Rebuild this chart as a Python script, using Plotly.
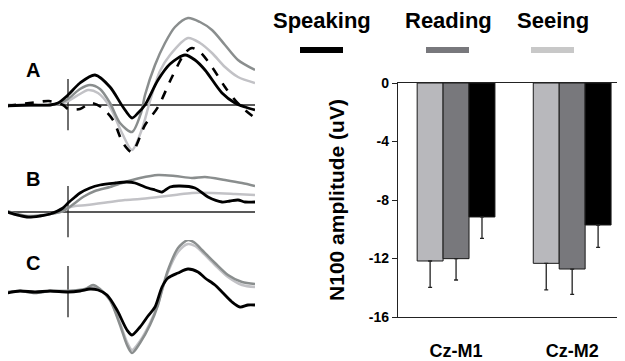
import plotly.graph_objects as go

# The page body keeps its default 8px margin, so the figure is sized to fill
# the 625x361 window from that offset.
WIN_W, WIN_H = 625, 361
OFF = 8
W, H = WIN_W - OFF, WIN_H - OFF
FONT = "Arial, Liberation Sans, sans-serif"

# ---------------- ERP waveforms (time in ms, amplitude in uV) ----------------
# Panel A
a_spk_t = [-122, -76, -36, -20, 0, 24, 54, 84, 110, 128, 140, 154, 180, 204, 234, 254, 274, 308, 334, 354, 374]
a_spk_v = [-0.25, 0, 0, 0.5, 2.5, 5.5, 7.5, 4.5, -0.5, -3.25, -2, 0, 6.25, 10.25, 12.5, 11.25, 8.75, 3, 0.5, -0.5, -1.25]
a_dash_t = [-122, -60, -38, -10, 0, 24, 46, 66, 90, 110, 128, 154, 180, 208, 234, 248, 264, 288, 314, 334, 354, 374]
a_dash_v = [-0.25, 0.75, 1, 0, -1, -1, 0.5, -0.5, -3.75, -9.5, -11.75, -5, -0.5, 7, 13, 14.25, 13.25, 9.5, 4.5, 1.25, -1.25, -3.25]
a_rd_t = [-122, -36, -16, 0, 24, 44, 64, 84, 104, 128, 146, 154, 174, 194, 214, 240, 264, 288, 314, 340, 374]
a_rd_v = [0, 0, 0.5, 1.5, 4, 5, 4, 0.5, -4.5, -6.75, -2, 2.5, 10, 15.5, 19.5, 21.75, 20.75, 18.75, 15, 11.25, 8.75]
a_se_t = [-122, -36, -16, 0, 24, 40, 60, 84, 108, 128, 148, 164, 184, 204, 240, 264, 288, 314, 340, 374]
a_se_v = [0, 0, 0.25, 1, 2.75, 3.75, 3, -0.5, -7, -11.25, -6, 1, 8.5, 12.5, 16.75, 15.5, 13, 9.5, 7, 5.5]

# Panel B
b_spk_t = [-122, -82, -56, -36, -10, 0, 14, 24, 44, 64, 94, 118, 134, 154, 174, 188, 204, 224, 254, 280, 308, 324, 340, 354, 374]
b_spk_v = [0, -1.25, -1, -0.5, 1, 2.25, 3.75, 4.75, 6, 6.75, 7.25, 7.5, 7.25, 6.25, 5.5, 5, 6.25, 6.5, 6, 3.75, 2.5, 2.75, 3, 2.5, 2.5]
b_rd_t = [-122, -82, -36, -10, 0, 14, 30, 54, 84, 114, 144, 180, 214, 248, 274, 314, 348, 374]
b_rd_v = [0.25, -1, -0.5, 0.25, 1, 2.25, 3.75, 5.25, 6.25, 7.5, 8.5, 9.25, 9, 8.5, 8.75, 8, 7.25, 6.5]
b_se_t = [-122, -82, -36, -10, 0, 14, 38, 84, 114, 144, 180, 214, 248, 288, 334, 374]
b_se_v = [0, -1.25, -0.5, 0.25, 1, 1.5, 1.75, 2.5, 3, 3.25, 3.75, 4.25, 4.75, 4.75, 4.5, 4.25]

# Panel C
c_spk_t = [-122, -96, -66, -36, 0, 24, 44, 60, 78, 98, 118, 128, 144, 160, 174, 188, 200, 220, 240, 260, 274, 294, 308, 328, 344, 360, 374]
c_spk_v = [-0.25, 0.25, 0, 0.25, 0, 0.25, 0.75, 0.5, -0.75, -4.5, -9.5, -10.75, -8.75, -6, -3.75, 1.25, 3.5, 4.75, 5.75, 5, 3.5, 1.75, 0, -2.5, -3.75, -3.25, -3.25]
c_rd_t = [-122, -96, -66, -36, 0, 34, 50, 64, 84, 104, 118, 128, 144, 164, 180, 188, 200, 220, 240, 254, 268, 294, 320, 348, 374]
c_rd_v = [0, 0.25, -0.25, 0.25, 0.25, 0.75, 1.75, 0.75, -2, -8.25, -13.25, -15.25, -12.75, -8.25, -3.25, 0.5, 5.5, 11, 13, 12.25, 10.5, 7.25, 4.25, 2.5, 2]
c_se_t = [-122, -96, -66, -36, 0, 34, 50, 64, 84, 104, 118, 128, 144, 164, 180, 188, 200, 220, 240, 254, 268, 294, 320, 348, 374]
c_se_v = [0, 0.25, -0.25, 0.25, 0.25, 0.5, 1.25, 0.5, -2, -7.75, -12.5, -14.5, -12.25, -7.75, -3, 0.25, 5, 10, 12, 11.5, 10, 6.75, 3.75, 1.75, 1.25]

panel_labels = ["A", "B", "C"]

# ---------------- Bar chart ----------------
categories = ["Cz-M1", "Cz-M2"]
seeing = [-12.17, -12.33]
reading = [-12.01, -12.72]
speaking = [-9.16, -9.71]
seeing_err = [1.8, 1.82]
reading_err = [1.46, 1.73]
speaking_err = [1.46, 1.53]
y_ticks = [0, -4, -8, -12, -16]
legend_names = ["Speaking", "Reading", "Seeing"]

C_SPK = "#000000"
C_RD_LINE = "#8a8e8e"
C_SE_LINE = "#c2c2c6"
C_RD_BAR = "#78787c"
C_SE_BAR = "#b8b8bc"
C_SE_LEG = "#c8c8c8"

fig = go.Figure()

def px_x(p):
    return min(1.0, max(0.0, (p - OFF) / W))

def px_y(p):
    return min(1.0, max(0.0, 1 - (p - OFF) / H))

# left panels: window pixels 8..255 horizontally -> time -120..374 ms
x_dom = [px_x(8), px_x(255)]
t_range = [-120, 374]
panels = [
    ((10, 160), [-13.75, 23.75]),
    ((165, 245), [-8.25, 11.75]),
    ((240, 361), [-17.25, 13.0]),
]
panel_data = [
    [(a_se_t, a_se_v, C_SE_LINE, 2.5, "solid"), (a_rd_t, a_rd_v, C_RD_LINE, 2.5, "solid"),
     (a_dash_t, a_dash_v, C_SPK, 2.6, "dash"), (a_spk_t, a_spk_v, C_SPK, 2.8, "solid")],
    [(b_se_t, b_se_v, C_SE_LINE, 2.5, "solid"), (b_rd_t, b_rd_v, C_RD_LINE, 2.5, "solid"),
     (b_spk_t, b_spk_v, C_SPK, 2.8, "solid")],
    [(c_se_t, c_se_v, C_SE_LINE, 2.5, "solid"), (c_rd_t, c_rd_v, C_RD_LINE, 2.5, "solid"),
     (c_spk_t, c_spk_v, C_SPK, 2.8, "solid")],
]
label_y = [70, 179, 263]

shapes = []
annotations = []
for i, ((top, bot), yr) in enumerate(panels):
    n = i + 1
    xa = "x" if n == 1 else f"x{n}"
    ya = "y" if n == 1 else f"y{n}"
    for t, v, col, w, dash in panel_data[i]:
        fig.add_trace(go.Scatter(x=t, y=v, mode="lines", xaxis=xa, yaxis=ya,
                                 line=dict(color=col, width=w, dash=dash, shape="spline", smoothing=0.8),
                                 showlegend=False, hoverinfo="skip", cliponaxis=False))
    fig.layout[f"xaxis{n if n > 1 else ''}"] = dict(domain=x_dom, range=t_range, visible=False,
                                                    anchor=ya, automargin=False)
    fig.layout[f"yaxis{n if n > 1 else ''}"] = dict(domain=[px_y(bot), px_y(top)], range=yr, visible=False,
                                                    anchor=xa, automargin=False)
    shapes.append(dict(type="line", xref=f"{xa} domain", yref=ya, x0=0, x1=1, y0=0, y1=0,
                       line=dict(color="#222222", width=1.3), layer="below"))
    shapes.append(dict(type="line", xref=xa, yref=ya, x0=0, x1=0, y0=-6.3, y1=6.5,
                       line=dict(color="#222222", width=1.3), layer="below"))
    annotations.append(dict(text=f"<b>{panel_labels[i]}</b>", xref="paper", yref="paper",
                            x=px_x(33), y=px_y(label_y[i]), xanchor="center", yanchor="middle",
                            showarrow=False, font=dict(family=FONT, size=20, color="black")))

# Bars
for name, vals, errs, col in [("Seeing", seeing, seeing_err, C_SE_BAR),
                              ("Reading", reading, reading_err, C_RD_BAR),
                              ("Speaking", speaking, speaking_err, C_SPK)]:
    fig.add_trace(go.Bar(x=categories, y=vals, name=name, xaxis="x4", yaxis="y4",
                         marker=dict(color=col, line=dict(color="#1a1a1a", width=1)),
                         error_y=dict(type="data", symmetric=False, array=[0, 0], arrayminus=errs,
                                      color="#222222", thickness=1.3, width=2),
                         showlegend=False, hoverinfo="skip"))

fig.update_layout(
    xaxis4=dict(domain=[px_x(398), 1.0], anchor="y4", type="category", range=[-0.5, 1.455],
                showline=True, mirror=True, linecolor="#222222", linewidth=1.3, ticks="",
                showgrid=False, tickfont=dict(family=FONT, size=18, color="black"),
                ticklabelstandoff=17, automargin=False,
                tickvals=categories, ticktext=[f"<b>{c}</b>" for c in categories]),
    xaxis5=dict(domain=[px_x(398), 1.0], anchor="y4", overlaying="x4", side="top",
                range=[-0.5, 1.455], tickvals=[0.5], ticks="inside", ticklen=4, tickwidth=1.2,
                tickcolor="#222222", showticklabels=False, showgrid=False, showline=False,
                automargin=False),
    yaxis4=dict(domain=[px_y(317), px_y(83)], anchor="x4", range=[-16, 0], tickvals=y_ticks,
                ticktext=[f"<b>{v}</b>" for v in y_ticks], ticks="outside", ticklen=5, tickwidth=1.2,
                tickcolor="#222222", showline=True, linecolor="#222222", linewidth=1.3,
                showgrid=False, zeroline=False, tickfont=dict(family=FONT, size=14, color="black"),
                automargin=False,
                title=dict(text="<b>N100 amplitude (uV)</b>", standoff=18,
                           font=dict(family=FONT, size=21, color="black"))),
    barmode="group", bargap=0.33, bargroupgap=0,
)

# Legend (text above a short colour bar)
leg_cx = [322, 448, 553]
leg_cols = [C_SPK, C_RD_BAR, C_SE_LEG]
for name, cx, col in zip(legend_names, leg_cx, leg_cols):
    annotations.append(dict(text=f"<b>{name}</b>", xref="paper", yref="paper", x=px_x(cx), y=px_y(20),
                            xanchor="center", yanchor="middle",
                            showarrow=False, font=dict(family=FONT, size=22, color="black")))
    shapes.append(dict(type="line", xref="paper", yref="paper", x0=px_x(cx - 22), x1=px_x(cx + 21),
                       y0=px_y(50), y1=px_y(50), line=dict(color=col, width=6)))

fig.update_layout(width=W, height=H, margin=dict(l=0, r=0, t=0, b=0),
                  paper_bgcolor="white", plot_bgcolor="white",
                  shapes=shapes, annotations=annotations, showlegend=False)

fig.write_html("out.html")
